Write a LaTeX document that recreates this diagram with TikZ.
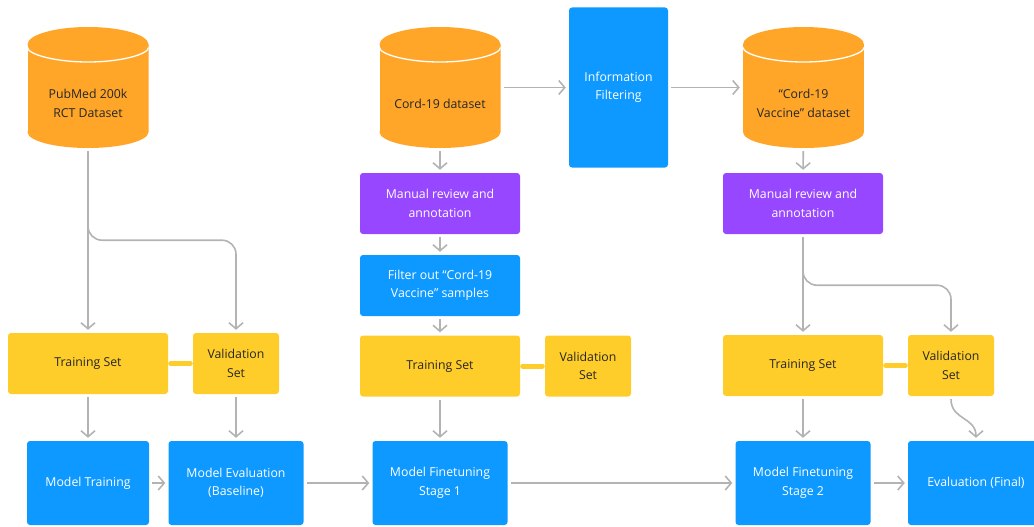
\documentclass[tikz,border=0pt]{standalone}
\usepackage{fontspec}
\setmainfont{Open Sans}
\usetikzlibrary{arrows.meta}

\definecolor{dborange}{HTML}{FFA629}
\definecolor{setyellow}{HTML}{FFCD29}
\definecolor{stepblue}{HTML}{0D99FF}
\definecolor{reviewpurple}{HTML}{9747FF}
\definecolor{flowgrey}{HTML}{B3B3B3}
\definecolor{darktext}{HTML}{262626}

\newcommand{\boxfont}{\fontsize{12.3}{18.5}\selectfont}

\begin{document}
\begin{tikzpicture}[
            x = 1pt, y = -1pt, % pixel units, y pointing down
            > = {Straight Barb[length=6pt,width=14pt]}, % arrow head style
            shorten > = 3pt, % don't touch arrow head to node
            shorten < = 3pt,
            flow/.style = {draw=flowgrey, line width=1.6pt, ->},
            setlink/.style = {draw=setyellow, line width=5pt, line cap=round, shorten > = 2.5pt, shorten < = 2.5pt},
            box/.style = {shape=rectangle, rounded corners=3pt, align=center, inner sep=2pt, font=\boxfont},
            setbox/.style = {box, fill=setyellow, text=darktext, minimum height=61pt},
            stepbox/.style = {box, fill=stepblue, text=white},
            reviewbox/.style = {box, fill=reviewpurple, text=white, minimum width=160pt, minimum height=61pt},
            db/.style = {shape=rectangle, minimum width=121pt, minimum height=121pt, inner sep=0pt,
                path picture={
                    \fill[dborange] ([yshift=-17.5pt]path picture bounding box.north west) rectangle ([yshift=16pt]path picture bounding box.south east);
                    \fill[dborange] ([yshift=-17.5pt]path picture bounding box.north) ellipse [x radius=60.5pt, y radius=17.5pt];
                    \fill[dborange] ([yshift=16pt]path picture bounding box.south) ellipse [x radius=60.5pt, y radius=16pt];
                    \draw[white, line width=1.3pt] ([yshift=-17.5pt]path picture bounding box.north west) arc [start angle=180, end angle=360, x radius=60.5pt, y radius=17.5pt];
                }},
            dbtext/.style = {yshift=-16pt, align=center, text=darktext, font=\boxfont}
        ]
        \useasboundingbox (0,0) rectangle (1034,527);
        \clip (0,0) rectangle (1034,527);

        % datasets
        \node[db, label={[dbtext]center:PubMed 200k\\RCT Dataset}] (pubmed) at (88,87.5) {};
        \node[db, label={[dbtext]center:Cord-19 dataset}] (cord) at (440,87.5) {};
        \node[db, label={[dbtext]center:“Cord-19\\Vaccine” dataset}] (vaccds) at (803.5,87.5) {};
        \node[stepbox, minimum width=99pt, minimum height=160pt] (infofilt) at (618.5,87.5) {Information\\Filtering};

        % review and split
        \node[reviewbox] (review1) at (440,203.5) {Manual review and\\annotation};
        \node[reviewbox] (review2) at (803,203.5) {Manual review and\\annotation};
        \node[stepbox, minimum width=160pt, minimum height=61pt] (filter) at (440,285.5) {Filter out “Cord-19\\Vaccine” samples};

        \node[setbox, minimum width=160pt] (train1) at (88,363.5)  {Training Set};
        \node[setbox, minimum width=86pt]  (val1)   at (236,363.5) {Validation\\Set};
        \node[setbox, minimum width=160pt] (train2) at (440,366)   {Training Set};
        \node[setbox, minimum width=86pt]  (val2)   at (588,366)   {Validation\\Set};
        \node[setbox, minimum width=160pt] (train3) at (803,365.5) {Training Set};
        \node[setbox, minimum width=86pt]  (val3)   at (951,365.5) {Validation\\Set};

        % models
        \node[stepbox, minimum width=122pt, minimum height=84pt] (modeltrain) at (88,483)  {Model Training};
        \node[stepbox, minimum width=135pt, minimum height=84pt] (modeleval)  at (236,483) {Model Evaluation\\(Baseline)};
        \node[stepbox, minimum width=135pt, minimum height=84pt] (ft1)        at (440,483) {Model Finetuning\\Stage 1};
        \node[stepbox, minimum width=135pt, minimum height=84pt] (ft2)        at (803,483) {Model Finetuning\\Stage 2};
        \node[stepbox, minimum width=136pt, minimum height=84pt] (evalfinal)  at (976,483) {Evaluation (Final)};

        \draw[setlink] (train1) -- (val1);
        \draw[setlink] (train2) -- (val2);
        \draw[setlink] (train3) -- (val3);

        \path[flow] (pubmed) edge (train1);
        \draw[flow, rounded corners=14pt] (pubmed.south) -- ++(0,92) -| (val1.north);
        \path[flow] (cord) edge (infofilt);
        \path[flow] (infofilt) edge (vaccds);
        \path[flow] (cord) edge (review1);
        \path[flow] (review1) edge (filter);
        \path[flow] (filter) edge (train2);
        \path[flow] (vaccds) edge (review2);
        \path[flow] (review2) edge (train3);
        \draw[flow, rounded corners=14pt] (review2.south) -- ++(0,51) -| (val3.north);

        \path[flow] (train1) edge (modeltrain);
        \path[flow] (val1) edge (modeleval);
        \path[flow] (train2) edge (ft1);
        \path[flow] (train3) edge (ft2);
        \draw[flow] (val3.south) .. controls +(0,24) and +(0,-24) .. (evalfinal.north);

        \path[flow] (modeltrain) edge (modeleval);
        \path[flow] (modeleval) edge (ft1);
        \path[flow] (ft1) edge (ft2);
        \path[flow] (ft2) edge (evalfinal);
    \end{tikzpicture}
\end{document}
